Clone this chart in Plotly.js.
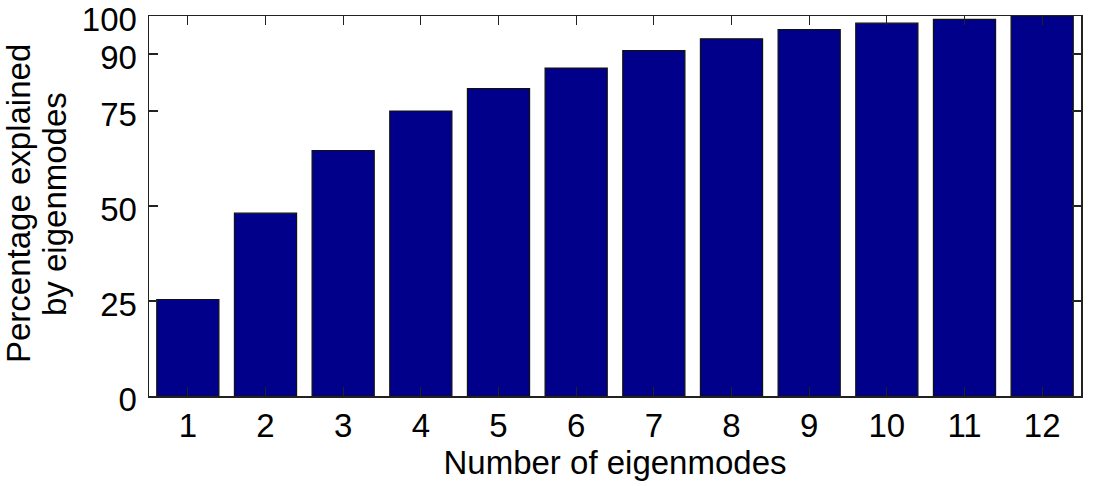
<!DOCTYPE html>
<html>
<head>
<meta charset="utf-8">
<script src="https://cdn.plot.ly/plotly-3.0.1.min.js"></script>
<style>html,body{margin:0;padding:0;background:#fff;}#chart{width:1102px;height:486px;}</style>
</head>
<body>
<div id="chart"></div>
<script>
const modes = [1, 2, 3, 4, 5, 6, 7, 8, 9, 10, 11, 12];
const percentExplained = [25.4, 48.1, 64.6, 75.0, 80.9, 86.3, 90.9, 94.0, 96.4, 98.1, 99.1, 100];
const yTickVals = [0, 25, 50, 75, 90, 100];
const yTickText = ['0', '25', '50', '75', '90', '100'];
const xTitle = 'Number of eigenmodes';
const yTitleLines = ['Percentage explained', 'by eigenmodes'];

const font = {family: 'Liberation Sans, Arial, sans-serif', size: 33, color: '#000'};
const lineShifts = [-131, -95];

Plotly.newPlot('chart', [{
  type: 'bar',
  x: modes,
  y: percentExplained,
  marker: {color: '#00008b', line: {color: '#111', width: 1.2}},
  hoverinfo: 'x+y'
}], {
  width: 1102, height: 486,
  margin: {l: 149, r: 21, t: 16, b: 90, pad: 0},
  paper_bgcolor: '#fff', plot_bgcolor: '#fff',
  bargap: 0.2,
  font: font,
  showlegend: false,
  xaxis: {
    range: [0.5, 12.5],
    tickmode: 'array', tickvals: modes, ticktext: modes.map(String),
    ticks: 'inside', ticklen: 9, tickwidth: 1.3, tickcolor: '#222',
    showline: true, linecolor: '#222', linewidth: 1.5, mirror: 'ticks',
    showgrid: false, zeroline: false,
    tickfont: font,
    ticklabelstandoff: 0,
    title: {text: xTitle, font: font, standoff: 8}
  },
  yaxis: {
    range: [0, 100],
    tickmode: 'array', tickvals: yTickVals, ticktext: yTickText,
    ticks: 'inside', ticklen: 9, tickwidth: 1.3, tickcolor: '#222',
    showline: true, linecolor: '#222', linewidth: 1.5, mirror: 'ticks',
    showgrid: false, zeroline: false,
    tickfont: font,
    ticklabelstandoff: 4,
    ticklabelshift: 3,
    ticklabeloverflow: 'allow'
  },
  annotations: yTitleLines.map((t, i) => ({
    text: t, font: font, textangle: -90,
    xref: 'paper', yref: 'paper', x: 0, y: 0.5,
    xanchor: 'center', yanchor: 'middle', xshift: lineShifts[i], yshift: 2,
    showarrow: false, align: 'center'
  }))
}, {displayModeBar: false, staticPlot: true});
</script>
</body>
</html>
